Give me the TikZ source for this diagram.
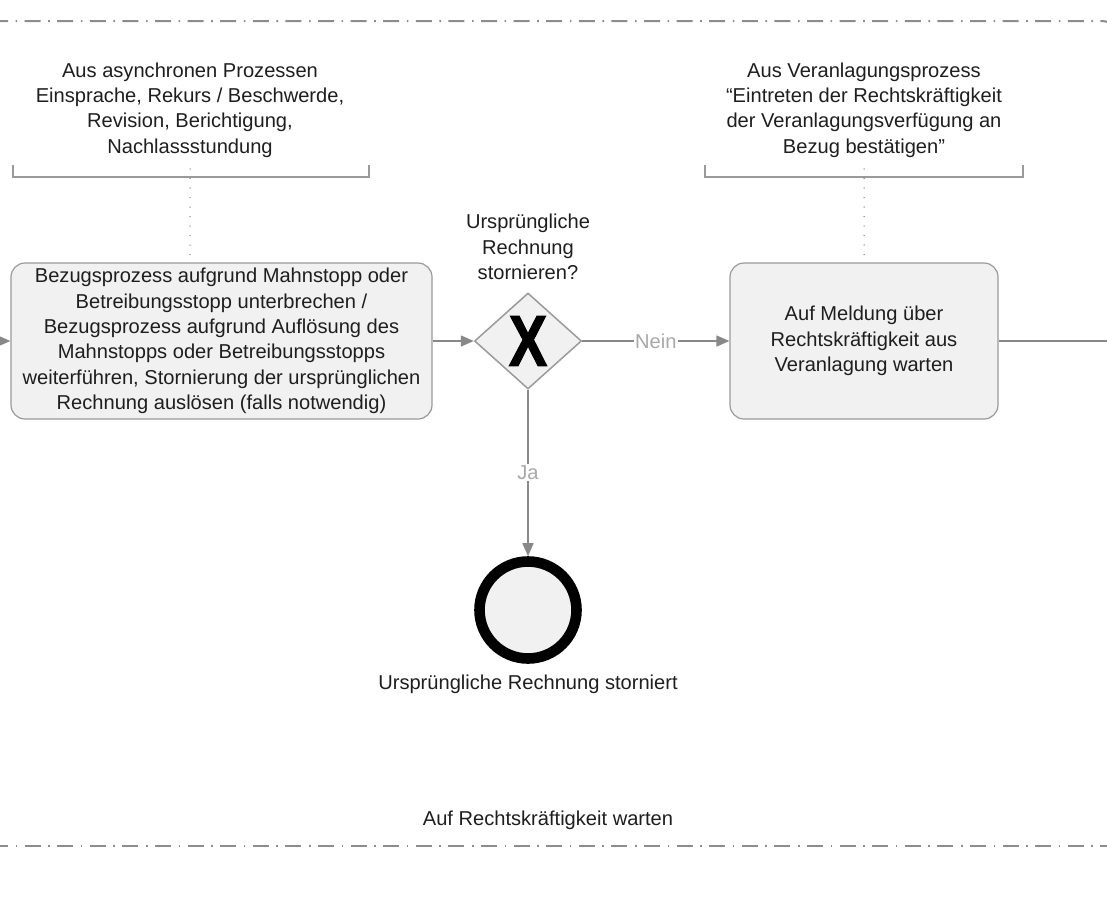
\documentclass[tikz,border=0pt]{standalone}
\usepackage{fontspec}
\setmainfont{Liberation Sans}
\usetikzlibrary{arrows.meta,shapes.geometric}
\definecolor{ink}{HTML}{1E1E1E}
\definecolor{flow}{HTML}{888888}
\definecolor{boxline}{HTML}{9A9A9A}
\definecolor{boxfill}{HTML}{F1F1F1}
\definecolor{lanecol}{HTML}{8C8C8C}
\definecolor{flowlabel}{HTML}{A8A8A8}
\begin{document}
\begin{tikzpicture}[x=1pt,y=-1pt,
  txt/.style={font=\fontsize{20.1}{25.4}\selectfont, text=ink, align=center},
  task/.style={txt, draw=boxline, fill=boxfill, line width=1.2pt,
    rounded corners=14pt, minimum height=156pt, inner sep=0pt},
  gateway/.style={diamond, draw=boxline, fill=boxfill, line width=1.5pt,
    minimum width=107pt, minimum height=96pt, inner sep=0pt},
  endevent/.style={circle, draw=black, fill=boxfill, line width=10.6pt,
    minimum size=97pt, inner sep=0pt},
  flowarrow/.style={draw=flow, line width=1.6pt,
    -{Triangle[length=13pt,width=11pt]}},
  flowline/.style={draw=flow, line width=1.6pt},
  flowtag/.style={font=\fontsize{20.1}{24}\selectfont, text=flowlabel,
    fill=white, inner sep=1.5pt},
  bracket/.style={draw=boxline, line width=1.5pt},
  assoc/.style={draw=flow, line width=1.5pt, line cap=round,
    dash pattern=on 0pt off 9.5pt},
  lane/.style={draw=lanecol, line width=2pt,
    dash pattern=on 16pt off 7.6pt on 1.6pt off 7.4pt, dash phase=8pt}]
\useasboundingbox (0,0) rectangle (1107,902);

% lane borders and lane title
\draw[lane, rounded corners=12pt] (0,21) -| (1115,90);
\draw[lane] (0,846) -- (1107,846);
\node[txt] (lanetitle) at (548,820) {Auf Rechtskräftigkeit warten};

% activities
\node[task, minimum width=421pt] (t1) at (221.5,341)
  {Bezugsprozess aufgrund Mahnstopp oder\\
   Betreibungsstopp unterbrechen /\\
   Bezugsprozess aufgrund Auflösung des\\
   Mahnstopps oder Betreibungsstopps\\
   weiterführen, Stornierung der ursprünglichen\\
   Rechnung auslösen (falls notwendig)};
\node[task, minimum width=268pt] (t2) at (864,341)
  {Auf Meldung über\\Rechtskräftigkeit aus\\Veranlagung warten};

% exclusive gateway with its heavy X marker
\node[gateway] (gw) at (528,341) {};
\node[font=\bfseries\fontsize{72}{72}\selectfont, text=black, xscale=0.8,
  draw=none, inner sep=0pt] (gwx) at (gw.center)
  {\special{pdf:literal 2 Tr 1.2 w}X\special{pdf:literal 0 Tr}};
\node[txt] (gwlabel) at (528,247) {Ursprüngliche\\Rechnung\\stornieren?};

% end event
\node[endevent] (ev) at (528,610) {};
\node[txt] (evlabel) at (528,684) {Ursprüngliche Rechnung storniert};

% text annotations
\node[txt] (ann1) at (190,110) {Aus asynchronen Prozessen\\
  Einsprache, Rekurs / Beschwerde,\\Revision, Berichtigung,\\Nachlassstundung};
\node[txt] (ann2) at (864,110) {Aus Veranlagungsprozess\\
  “Eintreten der Rechtskräftigkeit\\der Veranlagungsverfügung an\\Bezug bestätigen”};

\coordinate (a1l) at (13,165);
\coordinate (a1r) at (369,165);
\coordinate (a1m) at (190,177);
\coordinate (a2l) at (705,165);
\coordinate (a2r) at (1023,165);
\coordinate (a2m) at (864,177);
\draw[bracket] (a1l) |- (a1m) -| (a1r);
\draw[bracket] (a2l) |- (a2m) -| (a2r);
\draw[assoc] ([yshift=8pt]a1m) -- (a1m |- t1.north);
\draw[assoc] ([yshift=8pt]a2m) -- (t2.north);

% sequence flows
\coordinate (inflow) at (-2,341);
\coordinate (outflow) at (1110,341);
\draw[flowarrow] (inflow) -- (t1.west);
\draw[flowarrow] (t1.east) -- (gw.west);
\draw[flowarrow] (gw.east) -- node[flowtag] {Nein} (t2.west);
\draw[flowarrow] (gw.south) -- node[flowtag] {Ja} (ev.north);
\draw[flowline] (t2.east) -- (outflow);
\end{tikzpicture}
\end{document}
